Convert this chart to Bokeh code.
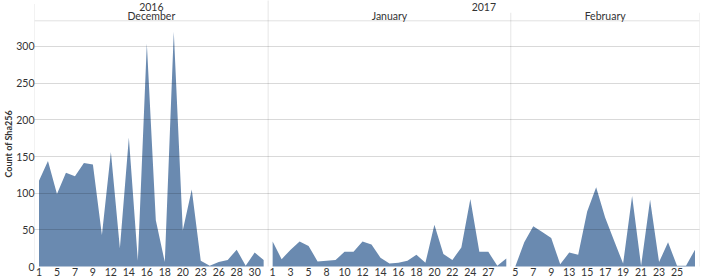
from bokeh.plotting import figure
from bokeh.models import FixedTicker, Range1d, Title
from bokeh.embed import file_html
from bokeh.resources import INLINE
from bokeh.core.properties import value

# ---- data ----
years = ["2016", "2017"]
months = ["December", "January", "February"]
dec_days = [1, 3, 5, 6, 7, 8, 9, 10, 12, 13, 14, 15, 16, 17, 18, 19, 20, 21, 23, 24, 26, 27, 28, 29, 30, 31]
dec_counts = [117, 144, 99, 128, 123, 141, 139, 43, 156, 25, 176, 8, 304, 63, 6, 320, 49, 105, 8, 1, 6, 9, 23, 1, 19, 9]
jan_days = [1, 2, 3, 4, 5, 6, 8, 9, 10, 11, 12, 13, 14, 15, 16, 17, 18, 19, 20, 21, 22, 23, 24, 25, 27, 28, 29]
jan_counts = [34, 10, 23, 34, 28, 7, 8, 9, 20, 20, 34, 30, 12, 4, 5, 8, 16, 5, 57, 17, 9, 26, 92, 20, 20, 1, 11]
feb_days = [5, 6, 7, 8, 9, 12, 13, 14, 15, 16, 17, 18, 19, 20, 21, 22, 23, 24, 25, 26, 27]
feb_counts = [0, 33, 55, 47, 39, 3, 19, 16, 75, 108, 67, 35, 4, 96, 1, 91, 6, 33, 1, 1, 23]
y_ticks = [0, 50, 100, 150, 200, 250, 300]
y_title = "Count of Sha256"

FONT = "Lato"
FILL = "#6a8ab0"
TXT = "#333333"

panels = [(dec_days, dec_counts), (jan_days, jan_counts), (feb_days, feb_counts)]
offsets = []
o = 0
for d, c in panels:
    offsets.append(o)
    o += len(d)
total = o

p = figure(width=703, height=278, output_backend="svg", toolbar_location=None,
           x_range=Range1d(-0.5, total - 0.5), y_range=Range1d(-2.7, 362.7),
           min_border_left=34, min_border_right=4, min_border_top=0, min_border_bottom=0)
p.outline_line_color = None
p.background_fill_color = "white"
p.border_fill_color = "white"

tick_pos = []
overrides = {}
for (d, c), off in zip(panels, offsets):
    xs = [off + i for i in range(len(d))]
    p.varea(x=xs, y1=[0] * len(xs), y2=c, fill_color=FILL, fill_alpha=1.0)
    for i in range(0, len(d) - 1, 2):
        tick_pos.append(off + i)
        overrides[off + i] = str(d[i])

# axes
p.xaxis.ticker = FixedTicker(ticks=tick_pos)
p.xaxis.major_label_overrides = overrides
p.xaxis.axis_line_color = None
p.xaxis.major_tick_line_color = None
p.xaxis.minor_tick_line_color = None
p.xaxis.major_tick_out = 0
p.xaxis.major_tick_in = 0
p.xaxis.major_label_standoff = -1
p.xaxis.major_label_text_font = FONT
p.xaxis.major_label_text_font_size = "10.5px"
p.xaxis.major_label_text_color = TXT

p.yaxis.ticker = FixedTicker(ticks=y_ticks)
p.yaxis.axis_line_color = None
p.yaxis.major_tick_line_color = None
p.yaxis.minor_tick_line_color = None
p.yaxis.major_tick_out = 0
p.yaxis.major_tick_in = 0
p.yaxis.major_label_standoff = 0
p.yaxis.major_label_text_font = FONT
p.yaxis.major_label_text_font_size = "10.5px"
p.yaxis.major_label_text_color = TXT

p.add_layout(Title(text=y_title, align="left", offset=91, standoff=0,
                   text_font=FONT, text_font_size="9px", text_font_style="bold",
                   text_color=TXT), "left")

p.xgrid.visible = False
p.ygrid.ticker = FixedTicker(ticks=y_ticks[1:])
p.ygrid.grid_line_color = "black"
p.ygrid.grid_line_alpha = 0.15
p.ygrid.level = "annotation"

# header / panel lines
hdr_y = 335
p.segment(x0=[-0.5], y0=[hdr_y], x1=[total - 0.5], y1=[hdr_y], line_color="black", line_alpha=0.12, line_width=1)
b1 = offsets[1] - 0.5
b2 = offsets[2] - 0.5
p.segment(x0=[-0.5, b1, b2, total - 0.5], y0=[0] * 4, x1=[-0.5, b1, b2, total - 0.5],
          y1=[358, 370, 346, 346], line_color="black", line_alpha=0.1, line_width=1)

# headers
dec_c = (offsets[0] - 0.5 + b1) / 2
jan_c = (b1 + b2) / 2
feb_c = (b2 + total - 0.5) / 2
yr2017_c = (b1 + total - 0.5) / 2
p.text(x=[dec_c, yr2017_c], y=[354, 354], text=years, text_font=value(FONT),
       text_font_size="10.5px", text_align="center", text_baseline="middle", text_color=TXT)
p.text(x=[dec_c, jan_c, feb_c], y=[341, 341, 341], text=months, text_font=value(FONT),
       text_font_size="10.5px", text_align="center", text_baseline="middle", text_color=TXT)

open("out.html", "w").write(file_html(p, INLINE))
